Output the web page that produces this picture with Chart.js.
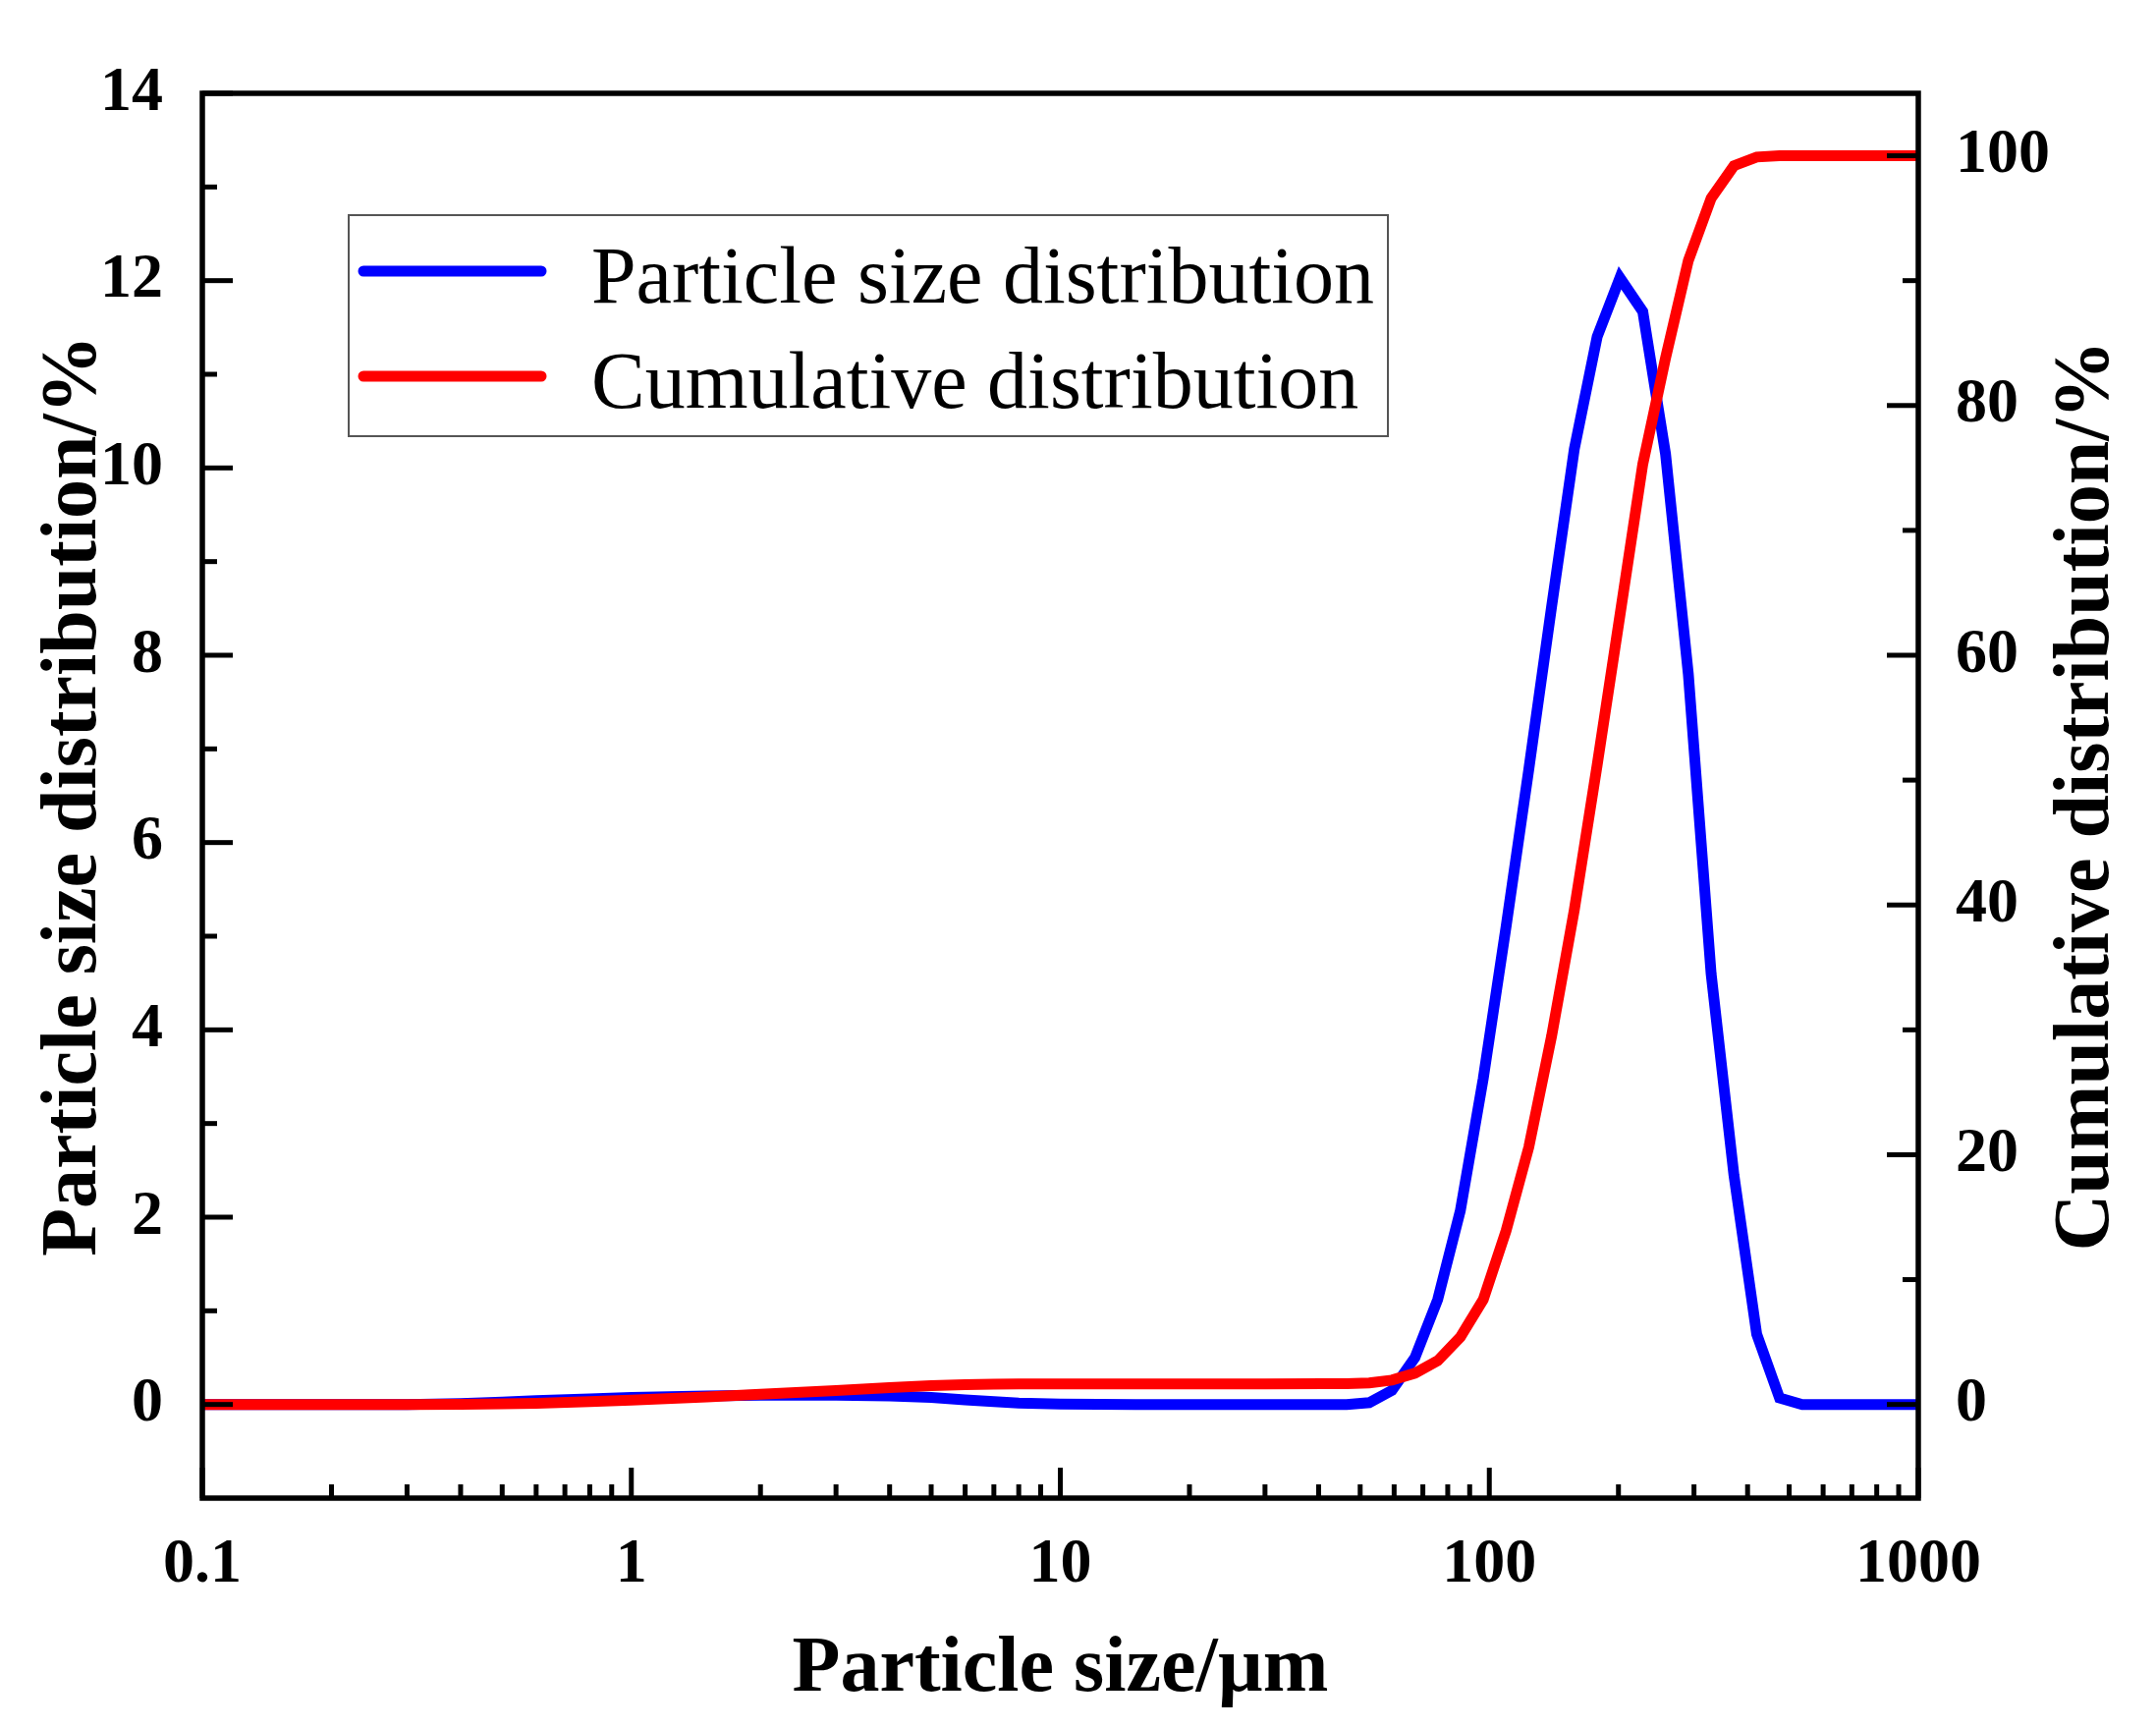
<!DOCTYPE html>
<html>
<head>
<meta charset="utf-8">
<script src="https://cdn.jsdelivr.net/npm/chart.js@4.4.1/dist/chart.umd.min.js"></script>
<style>
  html, body { margin: 0; padding: 0; background: #fff; }
  canvas { display: block; }
</style>
</head>
<body>
<canvas id="psdChart" width="2195" height="1759" style="width:2195px;height:1759px"></canvas>
<script>
// particle size (um) and the two measured curves
const sizes = [0.1, 0.2, 0.3, 0.4, 0.5, 0.6, 0.8, 1, 1.5, 2, 3, 4, 5, 6, 7, 8, 10, 15, 20, 30,
  41.1, 46.5, 52.5, 59.3, 67.1, 75.8, 85.6, 96.8, 109.4, 123.6, 139.7, 157.8, 178.4, 201.6,
  227.9, 257.5, 291.0, 328.9, 371.7, 420.1, 474.8, 536.5, 606.3, 700, 1000];
const distribution = [0, 0, 0, 0.01, 0.025, 0.04, 0.06, 0.075, 0.09, 0.1, 0.1, 0.09, 0.075, 0.05, 0.03, 0.015, 0.005, 0, 0, 0,
  0, 0, 0.02, 0.15, 0.5, 1.12, 2.07, 3.48, 5.1, 6.78, 8.52, 10.2, 11.4, 12.03,
  11.67, 10.15, 7.8, 4.6, 2.45, 0.75, 0.07, 0, 0, 0, 0];
const cumulative = [0, 0, 0, 0.02, 0.06, 0.1, 0.22, 0.35, 0.6, 0.82, 1.12, 1.35, 1.5, 1.58, 1.62, 1.64, 1.65, 1.65, 1.65, 1.65,
  1.66, 1.67, 1.72, 1.95, 2.5, 3.5, 5.4, 8.4, 13.9, 20.6, 29.5, 39.6, 51.2, 63.2,
  75.3, 83.8, 91.6, 96.6, 99.2, 99.9, 100, 100, 100, 100, 100];

const xTickValues = [0.1, 1, 10, 100, 1000];
const xTickLabels = ['0.1', '1', '10', '100', '1000'];
const leftTicks = [0, 2, 4, 6, 8, 10, 12, 14];
const leftMinor = [1, 3, 5, 7, 9, 11, 13];
const rightTicks = [0, 20, 40, 60, 80, 100];
const rightMinor = [10, 30, 50, 70, 90];

const FONT = "'Liberation Serif', 'Times New Roman', serif";

// minor ticks of the log axis: 2..9 in every decade
const xMinor = [];
xTickValues.slice(0, -1).forEach(d => {
  for (let m = 2; m <= 9; m++) xMinor.push(Math.round(d * m * 1000) / 1000);
});

function setTicks(majors, minors) {
  return scale => {
    const all = majors.map(v => ({ value: v, major: true }))
      .concat(minors.map(v => ({ value: v, major: false })));
    all.sort((a, b) => a.value - b.value);
    scale.ticks = all;
  };
}

const frameTicks = {
  id: 'frameTicks',
  afterDatasetsDraw(chart) {
    const { ctx, chartArea: a, scales } = chart;
    ctx.save();
    ctx.strokeStyle = '#000';
    ctx.lineWidth = 5;
    const mark = (x1, y1, x2, y2) => {
      ctx.beginPath(); ctx.moveTo(x1, y1); ctx.lineTo(x2, y2); ctx.stroke();
    };
    scales.x.ticks.forEach(t => {
      const px = scales.x.getPixelForValue(t.value);
      mark(px, a.bottom, px, a.bottom - (t.major ? 31 : 14));
    });
    scales.y.ticks.forEach(t => {
      const py = scales.y.getPixelForValue(t.value);
      mark(a.left, py, a.left + (t.major ? 31 : 15), py);
    });
    scales.y1.ticks.forEach(t => {
      const py = scales.y1.getPixelForValue(t.value);
      mark(a.right, py, a.right - (t.major ? 32 : 16), py);
    });
    ctx.lineWidth = 5.5;
    ctx.strokeRect(a.left, a.top, a.right - a.left, a.bottom - a.top);

    // right axis title, reading bottom to top
    ctx.fillStyle = '#000';
    ctx.font = 'bold 80px ' + FONT;
    ctx.textAlign = 'center';
    ctx.textBaseline = 'middle';
    ctx.translate(2125, (a.top + a.bottom) / 2);
    ctx.rotate(-Math.PI / 2);
    ctx.fillText('Cumulative distribution/%', 0, 0);
    ctx.restore();
  }
};

const boxLegend = {
  id: 'boxLegend',
  afterDatasetsDraw(chart) {
    const { ctx } = chart;
    ctx.save();
    ctx.fillStyle = '#fff';
    ctx.fillRect(355, 219, 1058, 225);
    ctx.strokeStyle = '#555';
    ctx.lineWidth = 2;
    ctx.strokeRect(355, 219, 1058, 225);
    ctx.font = '82px ' + FONT;
    ctx.textAlign = 'left';
    ctx.textBaseline = 'alphabetic';
    chart.data.datasets.forEach((ds, i) => {
      const y = 276 + i * 107;
      ctx.strokeStyle = ds.borderColor;
      ctx.lineWidth = ds.borderWidth;
      ctx.lineCap = 'round';
      ctx.beginPath(); ctx.moveTo(370, y); ctx.lineTo(551, y); ctx.stroke();
      ctx.fillStyle = '#000';
      ctx.fillText(ds.label, 602, y + 32);
    });
    ctx.restore();
  }
};

const tickFont = { family: FONT, size: 64, weight: 'bold' };

new Chart(document.getElementById('psdChart'), {
  type: 'line',
  data: {
    datasets: [
      {
        label: 'Particle size distribution',
        data: sizes.map((s, i) => ({ x: s, y: distribution[i] })),
        borderColor: '#0000ff',
        borderWidth: 11,
        pointRadius: 0,
        tension: 0,
        yAxisID: 'y',
        order: 2
      },
      {
        label: 'Cumulative distribution',
        data: sizes.map((s, i) => ({ x: s, y: cumulative[i] })),
        borderColor: '#ff0000',
        borderWidth: 11,
        pointRadius: 0,
        tension: 0,
        yAxisID: 'y1',
        order: 1
      }
    ]
  },
  options: {
    responsive: false,
    animation: false,
    devicePixelRatio: 1,
    layout: { padding: { top: 95, left: 0, right: 0, bottom: 0 } },
    plugins: { legend: { display: false }, tooltip: { enabled: false } },
    scales: {
      x: {
        type: 'logarithmic',
        position: 'bottom',
        min: 0.1,
        max: 1000,
        afterBuildTicks: setTicks(xTickValues, xMinor),
        afterFit: s => { s.height = 234; },
        grid: { display: false, drawTicks: false },
        border: { display: false },
        ticks: {
          autoSkip: false,
          maxRotation: 0,
          padding: 30,
          color: '#000',
          font: tickFont,
          callback: v => {
            const i = xTickValues.indexOf(v);
            return i >= 0 ? xTickLabels[i] : '';
          }
        },
        title: {
          display: true,
          text: 'Particle size/\u00b5m',
          color: '#000',
          font: { family: FONT, size: 80, weight: 'bold' },
          padding: { top: 0, bottom: 11 }
        }
      },
      y: {
        position: 'left',
        min: -1,
        max: 14,
        afterBuildTicks: setTicks(leftTicks, leftMinor),
        afterFit: s => { s.width = 206; },
        grid: { display: false, drawTicks: false },
        border: { display: false },
        ticks: {
          autoSkip: false,
          padding: 40,
          color: '#000',
          font: tickFont,
          callback: v => leftTicks.includes(v) ? String(v) : ''
        },
        title: {
          display: true,
          text: 'Particle size distribution/%',
          color: '#000',
          font: { family: FONT, size: 80, weight: 'bold' },
          padding: { top: 28, bottom: 0 }
        }
      },
      y1: {
        position: 'right',
        min: -7.5,
        max: 105,
        afterBuildTicks: setTicks(rightTicks, rightMinor),
        afterFit: s => { s.width = 242; },
        grid: { display: false, drawTicks: false },
        border: { display: false },
        ticks: {
          autoSkip: false,
          padding: 38,
          color: '#000',
          font: tickFont,
          callback: v => rightTicks.includes(v) ? String(v) : ''
        }
      }
    }
  },
  plugins: [frameTicks, boxLegend]
});
</script>
</body>
</html>
